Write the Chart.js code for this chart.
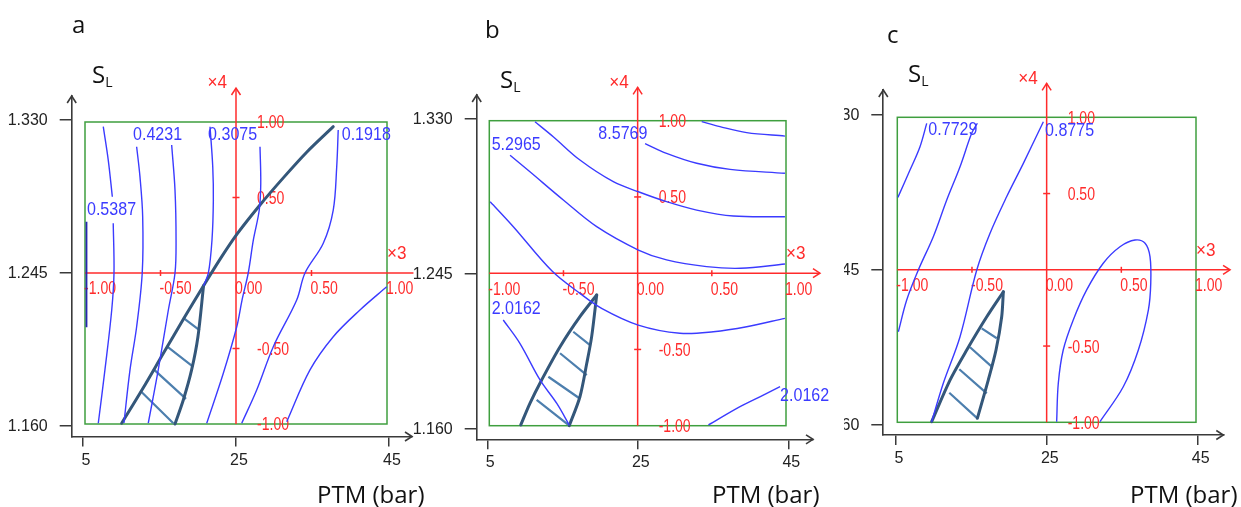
<!DOCTYPE html>
<html>
<head>
<meta charset="utf-8">
<title>Contours a, b, c</title>
<script src="https://cdn.jsdelivr.net/npm/chart.js@4.4.1/dist/chart.umd.min.js"></script>
<style>
  html, body { margin: 0; padding: 0; background: #fff; }
  #page { position: relative; width: 1241px; height: 507px; overflow: hidden; background: #fff; }
  .panel { position: absolute; top: 0; height: 507px; }
  .panel canvas { position: absolute; top: 0; }
  .txt { position: absolute; z-index: 5; font-family: "Open Sans", "Noto Sans", sans-serif; color: #111; line-height: 1; white-space: nowrap; font-size: 24px; }
  .txt sub { font-size: 14px; vertical-align: -4px; line-height: 1; }
</style>
</head>
<body>
<div id="page">
  <div class="panel" style="left:0;width:430px;"><canvas id="chart-a" style="left:0"></canvas></div>
  <div class="panel" style="left:410px;width:430px;"><canvas id="chart-b" style="left:0"></canvas></div>
  <div class="panel" style="left:844px;width:397px;overflow:hidden;"><canvas id="chart-c" style="left:-24px"></canvas></div>

  <div class="txt" style="left:72px;top:12px">a</div>
  <div class="txt" style="left:485px;top:17px">b</div>
  <div class="txt" style="left:887px;top:22px">c</div>

  <div class="txt" style="left:92px;top:62px">S<sub>L</sub></div>
  <div class="txt" style="left:500px;top:67px">S<sub>L</sub></div>
  <div class="txt" style="left:908px;top:61px">S<sub>L</sub></div>

  <div class="txt" style="left:317px;top:482px">PTM (bar)</div>
  <div class="txt" style="left:712px;top:482px">PTM (bar)</div>
  <div class="txt" style="left:1130px;top:482px">PTM (bar)</div>
</div>

<script>
// outer axes (real units) and inner coded axes
const ptmTicks = [5, 25, 45];
const slTicks = [1.160, 1.245, 1.330];
const codedTicks = [-1, -0.5, 0, 0.5, 1];

// panel a : contour lines in coded units (x3, x4)
const aEdge = [[-0.99, 0.34], [-0.99, -0.36]];
const aLine1 = [[-0.879, 0.969], [-0.846, 0.748], [-0.819, 0.505], [-0.816, null], [-0.813, 0.329], [-0.808, 0.0], [-0.823, -0.245], [-0.868, -0.642], [-0.912, -0.995]];
const aLine2 = [[-0.658, 0.836], [-0.636, 0.638], [-0.618, 0.373], [-0.621, 0.0], [-0.658, -0.356], [-0.702, -0.642], [-0.742, -0.993]];
const aLine3 = [[-0.426, 0.848], [-0.404, 0.550], [-0.397, 0.219], [-0.404, 0.0], [-0.448, -0.245], [-0.515, -0.642], [-0.581, -0.995]];
const aLine4 = [[-0.172, 0.969], [-0.154, 0.704], [-0.150, 0.483], [-0.159, 0.219], [-0.183, 0.0], [-0.215, -0.085]];
const aLine5 = [[0.159, 0.836], [0.164, 0.594], [0.154, 0.417], [0.115, 0.219], [0.081, 0.0], [0.040, -0.179], [0.005, -0.356], [-0.084, -0.664], [-0.194, -0.995]];
const aLine6 = [[0.677, 0.947], [0.667, 0.704], [0.644, 0.417], [0.578, 0.197], [0.457, 0.0], [0.402, -0.179], [0.247, -0.488], [0.137, -0.775], [0.038, -0.995]];
const aLine7 = [[0.998, -0.091], [0.821, -0.245], [0.644, -0.422], [0.490, -0.642], [0.336, -0.985]];
const aRidge = [[-0.757, -0.995], [-0.620, -0.770], [-0.480, -0.530], [-0.345, -0.300], [-0.215, -0.085], [-0.100, 0.100], [0.010, 0.262], [0.160, 0.452], [0.313, 0.630], [0.468, 0.800], [0.644, 0.969]];
const aRidgeRight = [[-0.215, -0.085], [-0.252, -0.422], [-0.294, -0.642], [-0.349, -0.841], [-0.404, -1.0]];
const aHatch = [[-0.345, -0.300], [-0.240, -0.380], [null, null], [-0.455, -0.488], [-0.285, -0.620], [null, null],
                [-0.543, -0.640], [-0.331, -0.834], [null, null], [-0.629, -0.785], [-0.415, -0.995]];
const aLabels = [['0.5387', -0.987, 0.417], ['0.4231', -0.682, 0.914], ['0.3075', -0.185, 0.914], ['0.1918', 0.700, 0.914]];

// panel b
const bLine1 = [[0.432, 0.994], [0.555, 0.961], [0.735, 0.922], [0.993, 0.899]];
const bLine2 = [[0.050, 0.850], [0.195, 0.786], [0.398, 0.721], [0.623, 0.681], [0.993, 0.655]];
const bLine3 = [[-0.692, 0.993], [-0.569, 0.895], [-0.389, 0.742], [-0.164, 0.600], [0.005, 0.534], [0.195, 0.469], [0.398, 0.414], [0.645, 0.375], [0.993, 0.370]];
const bLine4 = [[-0.860, 0.774], [-0.726, 0.665], [-0.501, 0.480], [-0.276, 0.305], [0.005, 0.152], [0.195, 0.087], [0.465, 0.043], [0.694, 0.032], [0.993, 0.060]];
const bLine5 = [[-0.994, 0.469], [-0.838, 0.305], [-0.577, 0.014], [-0.389, -0.132], [-0.240, -0.232], [0.004, -0.340], [0.285, -0.394], [0.510, -0.384], [0.735, -0.351], [0.993, -0.296]];
const bLine6 = [[-0.906, -0.307], [-0.794, -0.460], [-0.658, -0.700], [-0.545, -0.854], [-0.461, -0.996]];
const bLine7 = [[0.477, -0.995], [0.690, -0.875], [0.847, -0.799], [0.960, -0.744]];
const bRidgeLeft = [[-0.276, -0.143], [-0.389, -0.285], [-0.523, -0.482], [-0.647, -0.700], [-0.726, -0.853], [-0.788, -0.995]];
const bRidgeRight = [[-0.276, -0.143], [-0.310, -0.416], [-0.343, -0.591], [-0.389, -0.810], [-0.461, -1.0]];
const bHatch = [[-0.434, -0.384], [-0.321, -0.471], [null, null], [-0.523, -0.525], [-0.343, -0.668], [null, null],
                [-0.602, -0.679], [-0.393, -0.820], [null, null], [-0.681, -0.831], [-0.467, -0.995]];
const bLabels = [['8.5769', -0.265, 0.917], ['5.2965', -0.984, 0.841], ['2.0162', -0.984, -0.230], ['2.0162', 0.960, -0.803]];

// panel c
const cLine1 = [[-0.996, 0.475], [-0.915, 0.654], [-0.848, 0.807], [-0.803, 0.960]];
const cLine2 = [[-0.993, -0.406], [-0.937, -0.198], [-0.859, -0.001], [-0.759, 0.217], [-0.669, 0.458], [-0.580, 0.676], [-0.502, 0.895], [-0.464, 0.961]];
const cLine3 = [[-0.770, -0.996], [-0.692, -0.744], [-0.580, -0.439], [-0.468, -0.001], [-0.379, 0.240], [-0.268, 0.479], [-0.156, 0.698], [-0.022, 0.971]];
const cLine4 = [[0.067, -0.996], [0.078, -0.744], [0.111, -0.526], [0.178, -0.329], [0.268, -0.132], [0.379, 0.043], [0.491, 0.151], [0.592, 0.195],
                [0.659, 0.174], [0.692, 0.086], [0.697, -0.089], [0.681, -0.264], [0.614, -0.526], [0.513, -0.767], [0.357, -0.996]];
const cRidgeLeft = [[-0.290, -0.144], [-0.401, -0.308], [-0.535, -0.526], [-0.647, -0.723], [-0.770, -0.996]];
const cRidgeRight = [[-0.290, -0.144], [-0.301, -0.308], [-0.339, -0.526], [-0.391, -0.723], [-0.464, -0.974]];
const cHatch = [[-0.435, -0.384], [-0.334, -0.449], [null, null], [-0.513, -0.508], [-0.368, -0.635], [null, null],
                [-0.585, -0.652], [-0.401, -0.810], [null, null], [-0.652, -0.806], [-0.464, -0.974]];
const cLabels = [['0.7729', -0.792, 0.917], ['0.8775', -0.011, 0.910]];

// styles
const BLUE = '#3b3bff';
const NAVY = '#2626b0';
const RED = '#ff2b2b';
const GREEN = '#3f9f3f';
const RIDGE = '#34577a';
const HATCH = '#4d7fae';
const AXIS = '#3a3a3a';
const SANS = '"Liberation Sans", Arial, sans-serif';

function valueAt(v0, p0, v1, p1, p) {
    return v0 + (p - p0) * (v1 - v0) / (p1 - p0);
}

function stroke(ctx, pts) {
    ctx.beginPath();
    ctx.moveTo(pts[0][0], pts[0][1]);
    for (let i = 1; i < pts.length; i++) ctx.lineTo(pts[i][0], pts[i][1]);
    ctx.stroke();
}

// narrow text: the original uses a tall condensed bitmap font
function narrowText(ctx, text, x, y, sx) {
    ctx.save();
    ctx.translate(x, y);
    ctx.scale(sx, 1);
    ctx.fillText(text, 0, 0);
    ctx.restore();
}

// green frame, red coded axes, blue labels, axis arrows
const decorPlugin = {
    id: 'decor',
    beforeDatasetsDraw(chart, args, o) {
        const ctx = chart.ctx;
        const X = v => chart.scales.x.getPixelForValue(v);
        const Y = v => chart.scales.y.getPixelForValue(v);
        ctx.save();
        ctx.strokeStyle = GREEN;
        ctx.lineWidth = 1.5;
        ctx.strokeRect(X(-1), Y(1), X(1) - X(-1), Y(-1) - Y(1));

        ctx.strokeStyle = RED;
        ctx.lineWidth = 1.5;
        stroke(ctx, [[X(-1), Y(0)], [X(o.x3End), Y(0)]]);
        stroke(ctx, [[X(0), Y(-1)], [X(0), Y(o.x4End)]]);
        if (o.x3Arrow) {
            const ax = X(o.x3End), ay = Y(0);
            stroke(ctx, [[ax - 7, ay - 4.5], [ax, ay], [ax - 7, ay + 4.5]]);
        }
        const tx = X(0), ty = Y(o.x4End);
        stroke(ctx, [[tx - 4.5, ty + 7], [tx, ty], [tx + 4.5, ty + 7]]);
        [-0.5, 0.5].forEach(v => {
            stroke(ctx, [[X(v), Y(0) - 3], [X(v), Y(0) + 3]]);
            stroke(ctx, [[X(0) - 3.5, Y(v)], [X(0) + 3.5, Y(v)]]);
        });

        ctx.fillStyle = RED;
        ctx.font = '18px ' + SANS;
        ctx.textAlign = 'left';
        ctx.textBaseline = 'middle';
        codedTicks.forEach(v => narrowText(ctx, v.toFixed(2), X(v) - 1, Y(0) + 16.5, 0.78));
        codedTicks.filter(v => v !== 0).forEach(v => narrowText(ctx, v.toFixed(2), X(0) + 21, Y(v) + 1.5, 0.78));
        ctx.font = '19px ' + SANS;
        narrowText(ctx, '×3', X(1), Y(0) - 19, 0.9);
        narrowText(ctx, '×4', X(0) - 28.5, Y(o.x4End) - 5, 0.9);
        ctx.restore();
    },
    afterDatasetsDraw(chart, args, o) {
        const ctx = chart.ctx;
        const X = v => chart.scales.x.getPixelForValue(v);
        const Y = v => chart.scales.y.getPixelForValue(v);
        const area = chart.chartArea;
        ctx.save();
        ctx.fillStyle = BLUE;
        ctx.font = '19px ' + SANS;
        ctx.textAlign = 'left';
        ctx.textBaseline = 'middle';
        o.labels.forEach(l => narrowText(ctx, l[0], X(l[1]), Y(l[2]), 0.845));

        ctx.strokeStyle = AXIS;
        ctx.lineWidth = 1.6;
        stroke(ctx, [[area.left - 4.5, area.top + 7], [area.left, area.top], [area.left + 4.5, area.top + 7]]);
        stroke(ctx, [[area.right - 7, area.bottom - 4.5], [area.right, area.bottom], [area.right - 7, area.bottom + 4.5]]);
        ctx.restore();
    }
};

function contour(data, color, width) {
    return {
        data: data, showLine: true, borderColor: color || BLUE, borderWidth: width || 1.4,
        pointRadius: 0, tension: 0.35, fill: false, spanGaps: false
    };
}

function ridge(data) {
    return { data: data, showLine: true, borderColor: RIDGE, borderWidth: 3, pointRadius: 0, tension: 0.3, fill: false, borderCapStyle: 'round' };
}

function hatch(data) {
    return { data: data, showLine: true, borderColor: HATCH, borderWidth: 2.2, pointRadius: 0, tension: 0, fill: false, spanGaps: false };
}

function makePanel(p) {
    const el = document.getElementById(p.canvas);
    el.width = p.width;
    el.height = 507;
    el.style.width = p.width + 'px';
    el.style.height = '507px';

    const a = p.area;
    const yAxisW = a.left - p.left;
    const xAxisH = 507 - a.bottom;
    const xr = [valueAt(-1, p.codedX[0], 1, p.codedX[1], a.left), valueAt(-1, p.codedX[0], 1, p.codedX[1], a.right)];
    const yr = [valueAt(-1, p.codedY[0], 1, p.codedY[1], a.bottom), valueAt(-1, p.codedY[0], 1, p.codedY[1], a.top)];
    const pr = [valueAt(ptmTicks[0], p.ptmPx[0], ptmTicks[2], p.ptmPx[1], a.left), valueAt(ptmTicks[0], p.ptmPx[0], ptmTicks[2], p.ptmPx[1], a.right)];
    const sr = [valueAt(slTicks[0], p.slPx[0], slTicks[2], p.slPx[1], a.bottom), valueAt(slTicks[0], p.slPx[0], slTicks[2], p.slPx[1], a.top)];

    const tickFont = { family: SANS, size: 16 };

    return new Chart(el, {
        type: 'scatter',
        data: { datasets: p.datasets },
        options: {
            responsive: false,
            animation: false,
            devicePixelRatio: 1,
            events: [],
            layout: { padding: { left: 0, top: a.top, right: p.left + p.width - a.right, bottom: 0 } },
            plugins: {
                legend: { display: false },
                tooltip: { enabled: false },
                decor: { labels: p.labels, x3End: p.x3End, x3Arrow: p.x3Arrow, x4End: p.x4End }
            },
            scales: {
                x: { type: 'linear', display: false, min: xr[0], max: xr[1] },
                y: { type: 'linear', display: false, min: yr[0], max: yr[1] },
                ptm: {
                    type: 'linear', position: 'bottom', min: pr[0], max: pr[1],
                    afterBuildTicks: s => { s.ticks = ptmTicks.map(v => ({ value: v })); },
                    afterFit: s => { s.height = xAxisH; },
                    ticks: { callback: v => String(v), font: tickFont, color: '#222', padding: 4, labelOffset: 3, maxRotation: 0, autoSkip: false },
                    grid: { drawOnChartArea: false, drawTicks: true, tickLength: 10, color: AXIS, lineWidth: 1.5 },
                    border: { display: true, color: AXIS, width: 1.6 }
                },
                sl: {
                    type: 'linear', position: 'left', min: sr[0], max: sr[1],
                    afterBuildTicks: s => { s.ticks = slTicks.map(v => ({ value: v })); },
                    afterFit: s => { s.width = yAxisW; },
                    ticks: { callback: v => v.toFixed(3), font: tickFont, color: '#222', padding: 12, labelOffset: 1, autoSkip: false },
                    grid: { drawOnChartArea: false, drawTicks: true, tickLength: 12, color: AXIS, lineWidth: 1.5 },
                    border: { display: true, color: AXIS, width: 1.6 }
                }
            }
        },
        plugins: [decorPlugin]
    });
}

document.addEventListener('DOMContentLoaded', function() {
    makePanel({
        canvas: 'chart-a', left: 0, width: 430,
        area: { left: 71.7, right: 412, top: 96, bottom: 436.5 },
        codedX: [85, 387], codedY: [424, 122], ptmPx: [83, 389], slPx: [426, 120],
        x3End: 1.175, x3Arrow: false, x4End: 1.225,
        labels: aLabels,
        datasets: [
            contour(aEdge, NAVY, 1.8), contour(aLine1), contour(aLine2), contour(aLine3), contour(aLine4),
            contour(aLine5), contour(aLine6), contour(aLine7),
            ridge(aRidge), ridge(aRidgeRight), hatch(aHatch)
        ]
    });

    makePanel({
        canvas: 'chart-b', left: 410, width: 430,
        area: { left: 476.7, right: 813, top: 95, bottom: 439.3 },
        codedX: [489.3, 786], codedY: [425.7, 120.7], ptmPx: [487.3, 788.3], slPx: [428.3, 118.3],
        x3End: 1.229, x3Arrow: true, x4End: 1.219,
        labels: bLabels,
        datasets: [
            contour(bLine1), contour(bLine2), contour(bLine3), contour(bLine4), contour(bLine5),
            contour(bLine6), contour(bLine7),
            ridge(bRidgeLeft), ridge(bRidgeRight), hatch(bHatch)
        ]
    });

    makePanel({
        canvas: 'chart-c', left: 820, width: 421,
        area: { left: 883.3, right: 1223.3, top: 90, bottom: 435 },
        codedX: [897.3, 1196], codedY: [422.3, 117.3], ptmPx: [896, 1197.7], slPx: [425, 114.3],
        x3End: 1.228, x3Arrow: true, x4End: 1.223,
        labels: cLabels,
        datasets: [
            contour(cLine1), contour(cLine2), contour(cLine3), contour(cLine4),
            ridge(cRidgeLeft), ridge(cRidgeRight), hatch(cHatch)
        ]
    });
});
</script>
</body>
</html>
